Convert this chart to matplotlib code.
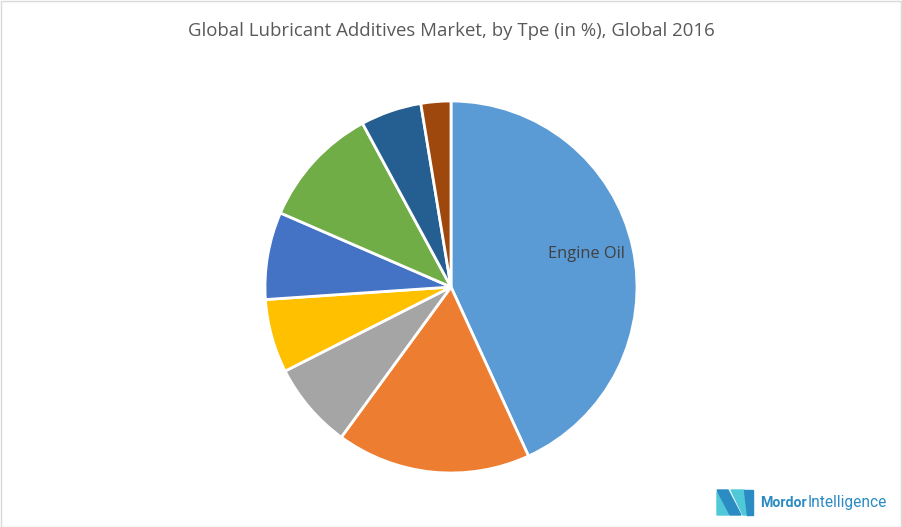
import matplotlib.pyplot as plt
from matplotlib.patches import Rectangle, Polygon

# Anteile der Additiv-Typen (in %), im Uhrzeigersinn ab 12 Uhr
segments = ['Engine Oil', 'Segment 2', 'Segment 3', 'Segment 4',
            'Segment 5', 'Segment 6', 'Segment 7', 'Segment 8']
shares = [43.2, 16.9, 7.5, 6.4, 7.6, 10.6, 5.3, 2.6]
colors = ['#5B9BD5', '#ED7D31', '#A5A5A5', '#FFC000',
          '#4472C4', '#70AD47', '#255E91', '#9E480E']

plt.rcParams['font.family'] = ['Open Sans', 'DejaVu Sans']

fig = plt.figure(figsize=(9.02, 5.27), dpi=100)
W, H = 902, 527


def px(x, y):
    # Pixel (von oben links) -> Figure-Koordinaten
    return (x / W, 1 - y / H)


# Rahmen um das ganze Bild
fig.patches.append(Rectangle((0.5 / W, 0.5 / H), 1 - 1.5 / W, 1 - 1.5 / H,
                             transform=fig.transFigure, fill=False,
                             edgecolor='#D9D9D9', linewidth=1))

fig.text(451 / W, 1 - 31 / H, 'Global Lubricant Additives Market, by Tpe (in %), Global 2016',
         ha='center', va='center', fontsize=13.4, color='#595959')

# Kreisdiagramm: Mitte (451, 287), Radius 186 px
cx, cy, r = 451, 287, 186
ax = fig.add_axes([(cx - r) / W, (H - cy - r) / H, 2 * r / W, 2 * r / H])
wedges, _ = ax.pie(shares, colors=colors, startangle=90, counterclock=False,
                   wedgeprops=dict(edgecolor='white', linewidth=2))
ax.set_xlim(-1, 1)
ax.set_ylim(-1, 1)
ax.set_aspect('equal')
ax.axis('off')
for w in wedges:
    w.set_clip_on(False)

# nur Engine Oil ist beschriftet
ax.text(0.726, 0.177, segments[0], ha='center', va='center', fontsize=11.8, color='#404040')

# Logo unten rechts
blue = '#2B8CC4'
teal = '#4FC8D8'
shapes = [
    (teal, [(717, 492), (729, 515), (717, 515)]),
    (blue, [(717, 490), (728, 490), (741, 515), (730, 515)]),
    (teal, [(731, 490), (744, 490), (747, 515), (743, 515)]),
    (blue, [(744, 490), (753, 490), (753, 515), (747, 515)]),
]
for col, pts in shapes:
    fig.patches.append(Polygon([px(x, y) for x, y in pts], closed=True,
                               transform=fig.transFigure, color=col))

t1 = fig.text(760 / W, 1 - 503 / H, 'Mordor', ha='left', va='center', fontsize=10.2,
              fontweight='bold', color=blue, family='Roboto')
fig.canvas.draw()
bb = t1.get_window_extent()
fig.text((bb.x1 + 1) / W, 1 - 503 / H, 'Intelligence', ha='left', va='center',
         fontsize=11.2, color=blue, family='Roboto')

fig.savefig('out.png', dpi=100)
